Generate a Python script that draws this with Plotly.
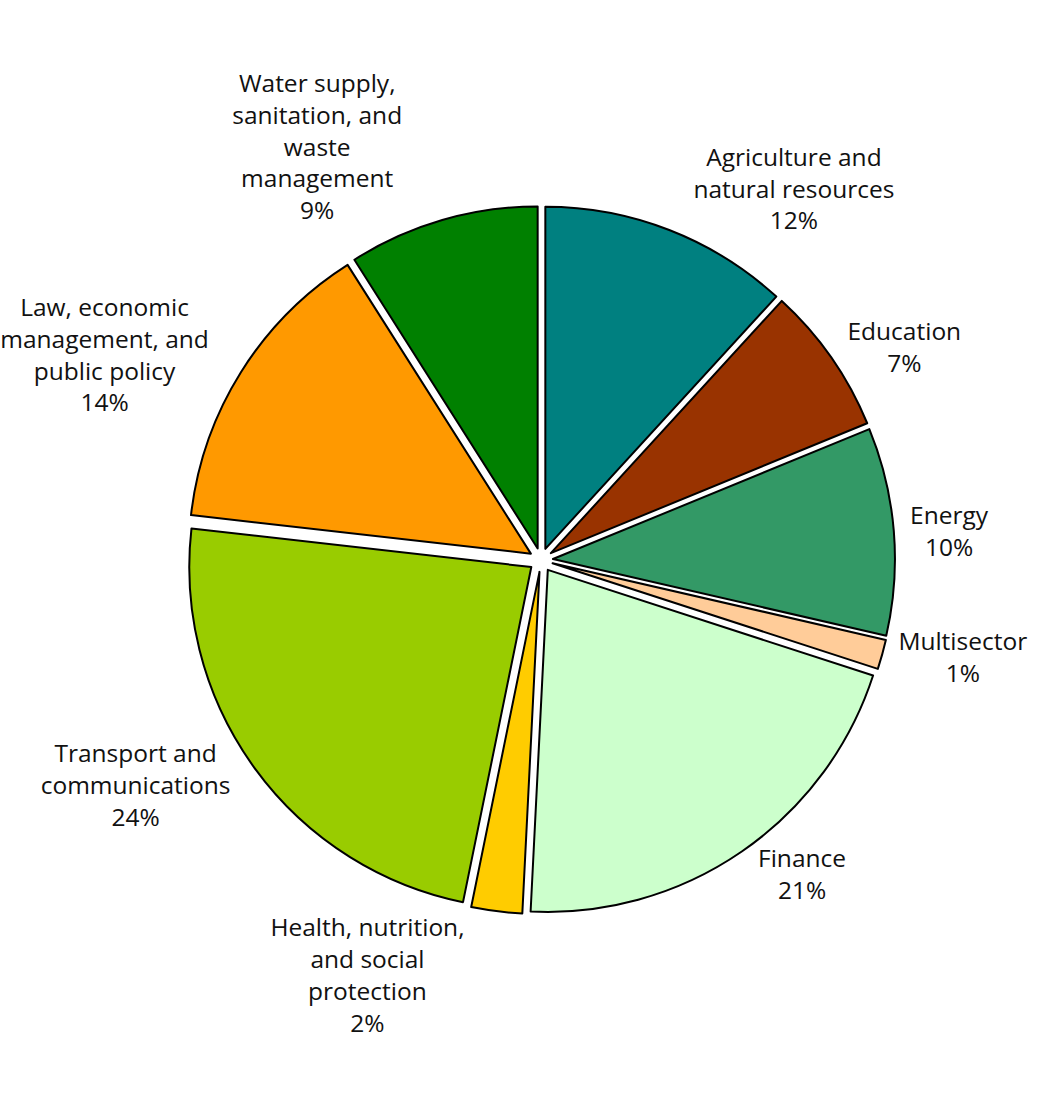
import plotly.graph_objects as go

labels = [
    "Agriculture and<br>natural resources",
    "Education",
    "Energy",
    "Multisector",
    "Finance",
    "Health, nutrition,<br>and social<br>protection",
    "Transport and<br>communications",
    "Law, economic<br>management, and<br>public policy",
    "Water supply,<br>sanitation, and<br>waste<br>management",
]
values = [11.8, 7.0, 9.8, 1.4, 20.8, 2.4, 23.6, 14.2, 9.0]
colors = ["#008080", "#993300", "#339966", "#FFCC99", "#CCFFCC",
          "#FFCC00", "#99CC00", "#FF9900", "#008000"]

W, H = 1061, 1097
cx, cy, R = 541, 560, 354

fig = go.Figure(go.Pie(
    labels=labels,
    values=values,
    sort=False,
    direction="clockwise",
    rotation=0,
    pull=[0.035] * len(values),
    marker=dict(colors=colors, line=dict(color="black", width=2)),
    texttemplate="%{label}<br>%{percent:.0%}",
    textposition="outside",
    automargin=False,
    textfont=dict(family="Open Sans", size=24.5, color="#111111"),
    hoverinfo="skip",
    showlegend=False,
    domain=dict(x=[(cx - R) / W, (cx + R) / W],
                y=[(H - cy - R) / H, (H - cy + R) / H]),
))

fig.update_layout(
    width=W, height=H,
    margin=dict(l=0, r=0, t=0, b=0),
    paper_bgcolor="white",
    plot_bgcolor="white",
)

fig.write_html("out.html", config={"displayModeBar": False},
               post_script="document.body.style.margin='0';")
